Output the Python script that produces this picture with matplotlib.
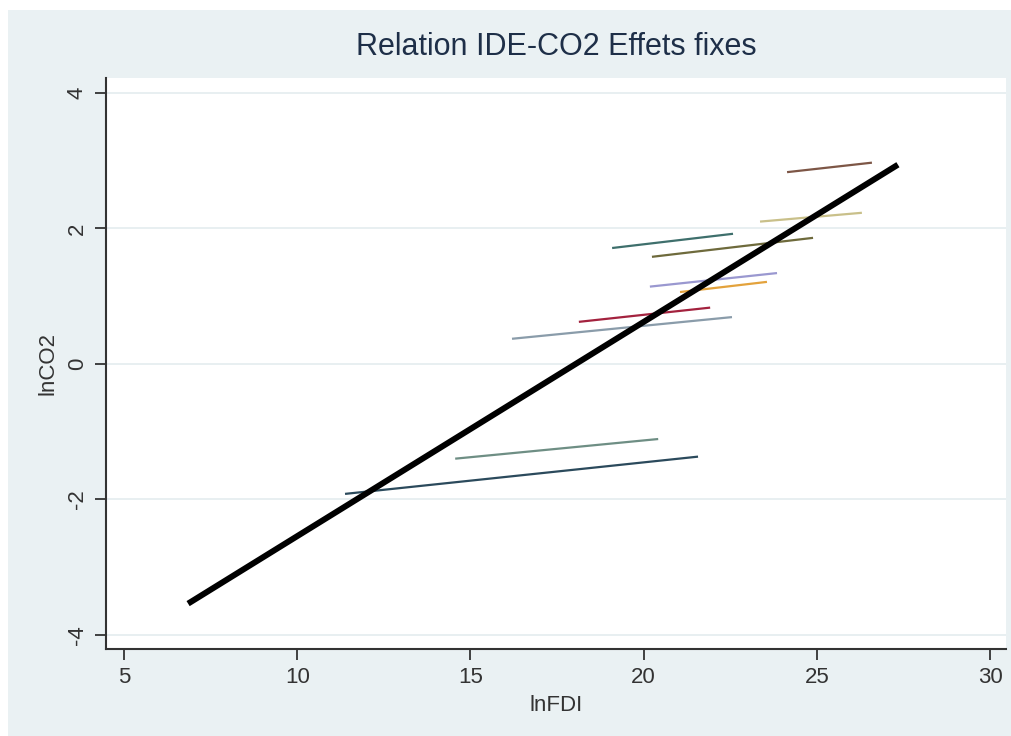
import matplotlib
matplotlib.use('Agg')
import matplotlib.pyplot as plt
from matplotlib.patches import Rectangle

# fitted line (pooled)
fit_x = [6.85, 27.34]
fit_y = [-3.54, 2.94]

# country fixed-effect lines: (x start, x end), (y start, y end), colour
fe_x0 = [24.14, 23.36, 19.09, 20.24, 20.18, 21.05, 18.13, 16.20, 14.56, 11.38]
fe_x1 = [26.59, 26.30, 22.58, 24.89, 23.85, 23.56, 21.92, 22.55, 20.42, 21.57]
fe_y0 = [2.83, 2.10, 1.71, 1.58, 1.14, 1.06, 0.62, 0.37, -1.40, -1.92]
fe_y1 = [2.97, 2.23, 1.92, 1.86, 1.34, 1.21, 0.83, 0.69, -1.11, -1.37]
fe_col = ['#7d5646', '#c9c08a', '#3e6f6c', '#6e6a3c', '#9a98d0',
          '#e3a23c', '#a3223e', '#8a9caa', '#6e8e84', '#2b4a5c']

xticks = [5, 10, 15, 20, 25, 30]
yticks = [-4, -2, 0, 2, 4]

plt.rcParams['font.family'] = ['Liberation Sans', 'DejaVu Sans']

fig = plt.figure(figsize=(10.12, 7.36), dpi=100)
fig.patch.set_facecolor('white')
fig.patches.append(Rectangle((8 / 1012, 0), 1, 1 - 10 / 736, transform=fig.transFigure,
                             facecolor='#eaf1f3', edgecolor='none', zorder=-10))

ax = fig.add_axes([106 / 1012, 1 - 649 / 736, 900 / 1012, 571 / 736])
ax.set_facecolor('white')

for x0, x1, y0, y1, c in zip(fe_x0, fe_x1, fe_y0, fe_y1, fe_col):
    ax.plot([x0, x1], [y0, y1], color=c, lw=1.6, solid_capstyle='butt', zorder=2)

ax.plot(fit_x, fit_y, color='black', lw=4.3, solid_capstyle='butt', zorder=3)

ax.set_xlim(4.48, 30.46)
ax.set_ylim(-4.21, 4.22)
ax.set_xticks(xticks)
ax.set_yticks(yticks)
ax.set_yticklabels([str(v) for v in yticks], rotation=90, va='center')
ax.grid(axis='y', color='#e4ecef', lw=1.2)
ax.set_axisbelow(True)

for s in ['top', 'right']:
    ax.spines[s].set_visible(False)
for s in ['left', 'bottom']:
    ax.spines[s].set_color('#333333')
    ax.spines[s].set_linewidth(1.5)

ax.tick_params(axis='both', length=8, width=1.3, color='#333333',
               labelsize=16, labelcolor='#333333', pad=5)

ax.set_xlabel('lnFDI', fontsize=16, color='#333333', labelpad=5)
ax.set_ylabel('lnCO2', fontsize=16, color='#333333', labelpad=6)

fig.text(556 / 1012, 1 - 47 / 736, 'Relation IDE-CO2 Effets fixes', ha='center', va='center',
         fontsize=22, color='#1e2f48')

fig.savefig('out.png', dpi=100, facecolor=fig.get_facecolor())
